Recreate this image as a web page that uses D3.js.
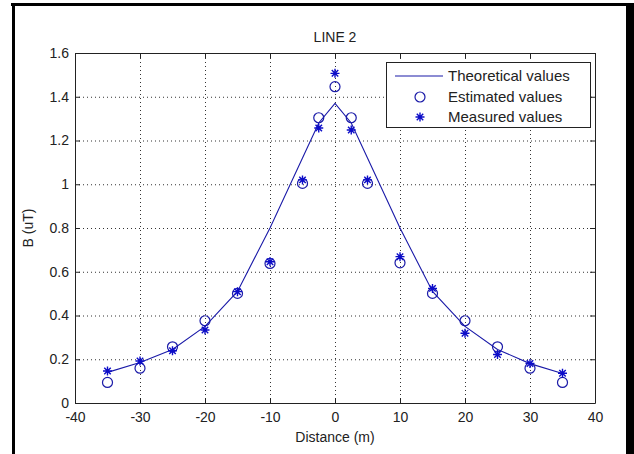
<!DOCTYPE html>
<html>
<head>
<meta charset="utf-8">
<script src="https://cdn.jsdelivr.net/npm/d3@7"></script>
<style>
  body { margin: 0; background: #fff; }
  text { font-family: "Liberation Sans", Arial, sans-serif; fill: #222; }
</style>
</head>
<body>
<svg id="chart" width="634" height="454"></svg>
<script>
// distance along the profile (m)
const distances = [-35, -30, -25, -20, -15, -10, -5, -2.5, 0, 2.5, 5, 10, 15, 20, 25, 30, 35];
// field values (uT)
const theoretical = [0.14, 0.185, 0.245, 0.35, 0.51, 0.80, 1.12, 1.28, 1.37, 1.28, 1.12, 0.80, 0.51, 0.35, 0.245, 0.18, 0.135];
const estimated = [0.094, 0.159, 0.257, 0.376, 0.501, 0.638, 1.004, 1.304, 1.446, 1.304, 1.004, 0.641, 0.501, 0.376, 0.257, 0.159, 0.094];
const measured = [0.146, 0.192, 0.239, 0.334, 0.509, 0.646, 1.02, 1.257, 1.507, 1.248, 1.02, 0.669, 0.524, 0.319, 0.222, 0.181, 0.136];
const xTicks = [-40, -30, -20, -10, 0, 10, 20, 30, 40];
const yTicks = [0, 0.2, 0.4, 0.6, 0.8, 1, 1.2, 1.4, 1.6];
const legendLabels = ["Theoretical values", "Estimated values", "Measured values"];

const svg = d3.select("#chart");
const pL = 75, pR = 595, pT = 53, pB = 403;
const blue = "#1a1aa8";
const fs = 14;

// figure frame (black border of the screenshot)
svg.append("rect").attr("x", 11).attr("y", 3).attr("width", 623).attr("height", 3).attr("fill", "#000");
svg.append("rect").attr("x", 12).attr("y", 3).attr("width", 3).attr("height", 451).attr("fill", "#000");
svg.append("rect").attr("x", 626).attr("y", 3).attr("width", 8).attr("height", 451).attr("fill", "#000");

const x = d3.scaleLinear().domain([-40, 40]).range([pL, pR]);
const y = d3.scaleLinear().domain([0, 1.6]).range([pB, pT]);
const fmt = d => String(+d.toFixed(1));

// dotted grid
svg.append("g").attr("transform", `translate(0,${pB})`)
  .call(d3.axisBottom(x).tickValues(xTicks.slice(1, -1)).tickSize(-(pB - pT)).tickFormat(""))
  .call(g => g.select(".domain").remove())
  .call(g => g.selectAll("line").attr("stroke", "#333").attr("stroke-dasharray", "1,3"));
svg.append("g").attr("transform", `translate(${pL},0)`)
  .call(d3.axisLeft(y).tickValues(yTicks.slice(1, -1)).tickSize(-(pR - pL)).tickFormat(""))
  .call(g => g.select(".domain").remove())
  .call(g => g.selectAll("line").attr("stroke", "#333").attr("stroke-dasharray", "1,3"));

// axes with ticks pointing inward, box on all sides
svg.append("g").attr("transform", `translate(0,${pB})`)
  .call(d3.axisBottom(x).tickValues(xTicks).tickSize(-5).tickPadding(9).tickFormat(fmt).tickSizeOuter(0));
svg.append("g").attr("transform", `translate(${pL},0)`)
  .call(d3.axisLeft(y).tickValues(yTicks).tickSize(-5).tickPadding(6).tickFormat(fmt).tickSizeOuter(0));
svg.append("g").attr("transform", `translate(0,${pT})`)
  .call(d3.axisTop(x).tickValues(xTicks).tickSize(-5).tickFormat("").tickSizeOuter(0));
svg.append("g").attr("transform", `translate(${pR},0)`)
  .call(d3.axisRight(y).tickValues(yTicks).tickSize(-5).tickFormat("").tickSizeOuter(0));
svg.selectAll(".domain, .tick line:not([stroke-dasharray])").attr("stroke", "#222");
svg.selectAll(".tick text").attr("font-size", fs).attr("fill", "#222")
  .attr("font-family", "'Liberation Sans', Arial, sans-serif");

// titles
svg.append("text").attr("x", (pL + pR) / 2).attr("y", 42).attr("text-anchor", "middle")
  .attr("font-size", fs).text("LINE 2");
svg.append("text").attr("x", (pL + pR) / 2).attr("y", 442).attr("text-anchor", "middle")
  .attr("font-size", fs).text("Distance (m)");
svg.append("text").attr("transform", `translate(33,${(pT + pB) / 2}) rotate(-90)`)
  .attr("text-anchor", "middle").attr("font-size", fs).text("B (uT)");

// theoretical curve
const line = d3.line().x((d, i) => x(distances[i])).y(d => y(d));
svg.append("path").attr("d", line(theoretical)).attr("fill", "none")
  .attr("stroke", blue).attr("stroke-width", 1.1);

// estimated: open circles
svg.append("g").selectAll("circle").data(estimated).join("circle")
  .attr("cx", (d, i) => x(distances[i])).attr("cy", d => y(d)).attr("r", 5)
  .attr("fill", "none").attr("stroke", blue).attr("stroke-width", 1.2);

// measured: asterisks
function star(cx, cy, r) {
  const p = d3.path();
  const k = r * 0.72;
  p.moveTo(cx - r, cy); p.lineTo(cx + r, cy);
  p.moveTo(cx, cy - r); p.lineTo(cx, cy + r);
  p.moveTo(cx - k, cy - k); p.lineTo(cx + k, cy + k);
  p.moveTo(cx - k, cy + k); p.lineTo(cx + k, cy - k);
  return p.toString();
}
svg.append("g").selectAll("path").data(measured).join("path")
  .attr("d", (d, i) => star(x(distances[i]), y(d), 4.5))
  .attr("fill", "none").attr("stroke", "#0c0cc8").attr("stroke-width", 1.4);

// legend
const lg = svg.append("g");
lg.append("rect").attr("x", 386.5).attr("y", 62.5).attr("width", 204).attr("height", 65)
  .attr("fill", "#fff").attr("stroke", "#222");
const rows = [76, 97, 117];
lg.append("line").attr("x1", 395).attr("x2", 443).attr("y1", rows[0]).attr("y2", rows[0])
  .attr("stroke", blue).attr("stroke-width", 1.1);
lg.append("circle").attr("cx", 420).attr("cy", rows[1]).attr("r", 5)
  .attr("fill", "none").attr("stroke", blue).attr("stroke-width", 1.2);
lg.append("path").attr("d", star(420, rows[2], 4.5))
  .attr("fill", "none").attr("stroke", "#0c0cc8").attr("stroke-width", 1.4);
lg.selectAll("text.lab").data(legendLabels).join("text").attr("class", "lab")
  .attr("x", 448).attr("y", (d, i) => rows[i] + 5).attr("font-size", 15).text(d => d);
</script>
</body>
</html>
